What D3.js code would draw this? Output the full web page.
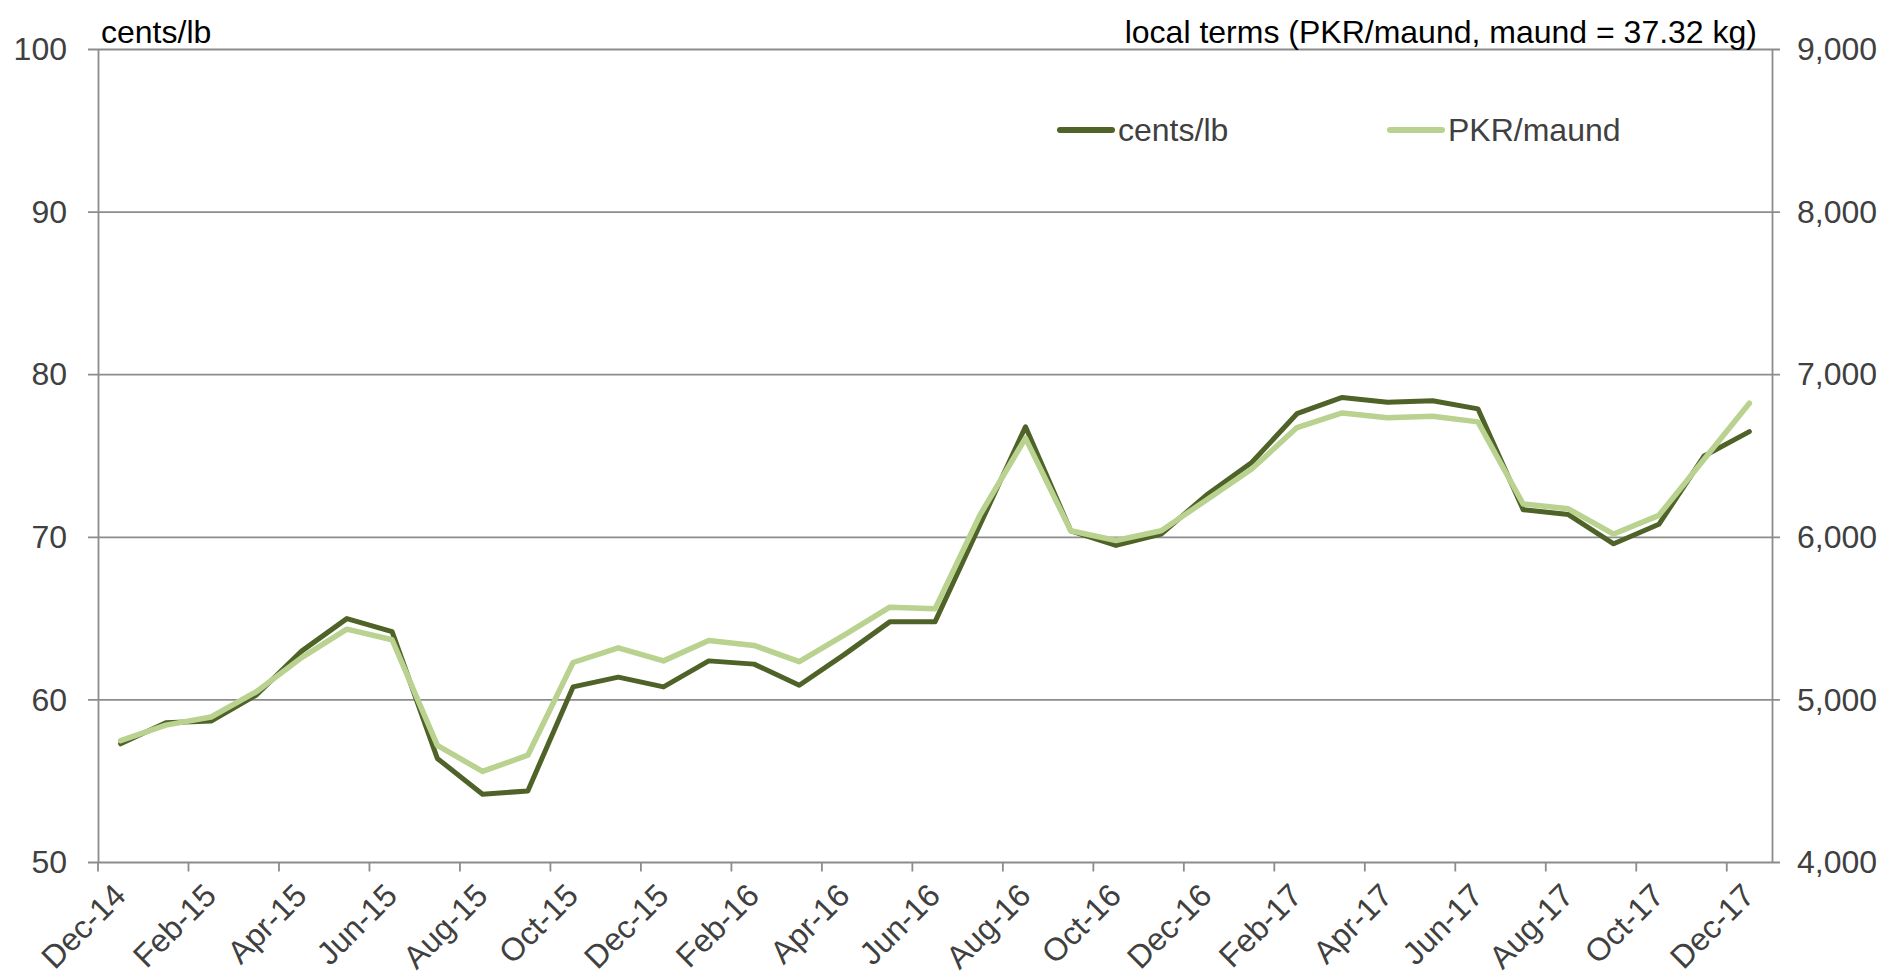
<!DOCTYPE html>
<html lang="en">
	<head>
		<meta charset="utf-8">
		<title>Cotton price, cents/lb and PKR/maund</title>
		<script type="text/javascript" src="https://cdnjs.cloudflare.com/ajax/libs/d3/7.8.5/d3.min.js"></script>
		<style type="text/css">
			body { margin: 0; background: #fff; }
			text { font-family: "Liberation Sans", Arial, sans-serif; }
		</style>
	</head>
	<body>
		<script type="text/javascript">

			// data
			var months = ['Dec-14','Jan-15','Feb-15','Mar-15','Apr-15','May-15','Jun-15','Jul-15','Aug-15','Sep-15','Oct-15','Nov-15',
				'Dec-15','Jan-16','Feb-16','Mar-16','Apr-16','May-16','Jun-16','Jul-16','Aug-16','Sep-16','Oct-16','Nov-16',
				'Dec-16','Jan-17','Feb-17','Mar-17','Apr-17','May-17','Jun-17','Jul-17','Aug-17','Sep-17','Oct-17','Nov-17','Dec-17']

			var centsLb = [57.3, 58.6, 58.7, 60.3, 63.0, 65.0, 64.2, 56.4, 54.2, 54.4, 60.8, 61.4,
				60.8, 62.4, 62.2, 60.9, 62.8, 64.8, 64.8, 70.8, 76.8, 70.4, 69.5, 70.2,
				72.6, 74.6, 77.6, 78.6, 78.3, 78.4, 77.9, 71.7, 71.4, 69.6, 70.8, 75.0, 76.5]

			var pkrMaund = [4750, 4845, 4895, 5050, 5260, 5435, 5370, 4720, 4560, 4660, 5230, 5320,
				5240, 5365, 5335, 5235, 5400, 5570, 5560, 6140, 6610, 6040, 5980, 6040,
				6230, 6420, 6675, 6765, 6735, 6745, 6710, 6205, 6175, 6020, 6135, 6480, 6825]

			var leftTicks = [50, 60, 70, 80, 90, 100]
			var rightTicks = [4000, 5000, 6000, 7000, 8000, 9000]

			var w = 1894
			var h = 980
			var padLeft = 98, padRight = 1772, padTop = 49.5, padBottom = 862.5
			var fontSize = 32
			var gridColor = '#8c8c8c'
			var darkGreen = '#4f6228'
			var lightGreen = '#b9d28f'

			var xScale = d3.scaleBand()
							.domain(months)
							.range([padLeft, padRight])
			var bw = xScale.bandwidth()

			var yLeft = d3.scaleLinear()
							.domain([50, 100])
							.range([padBottom, padTop])
			var yRight = d3.scaleLinear()
							.domain([4000, 9000])
							.range([padBottom, padTop])

			var svg = d3.select('body')
							.append('svg')
							.attr('width', w)
							.attr('height', h)

			// gridlines
			svg.append('g')
				.selectAll('line')
				.data(leftTicks)
				.enter()
				.append('line')
				.attr('x1', padLeft - 10)
				.attr('x2', padRight + 8)
				.attr('y1', d => yLeft(d))
				.attr('y2', d => yLeft(d))
				.attr('stroke', gridColor)
				.attr('stroke-width', 1.8)

			// left axis
			svg.append('g')
				.attr('transform', `translate(${padLeft},0)`)
				.call(d3.axisLeft(yLeft).tickValues(leftTicks).tickSize(0).tickPadding(31))
				.call(g => g.select('.domain').attr('stroke', gridColor).attr('stroke-width', 1.8))
				.call(g => g.selectAll('text')
					.attr('font-size', fontSize)
					.attr('fill', '#404040')
					.attr('font-family', '"Liberation Sans", Arial, sans-serif'))

			// right axis
			svg.append('g')
				.attr('transform', `translate(${padRight},0)`)
				.call(d3.axisRight(yRight).tickValues(rightTicks).tickFormat(d3.format(',')).tickSize(0).tickPadding(25))
				.call(g => g.select('.domain').attr('stroke', gridColor).attr('stroke-width', 1.8))
				.call(g => g.selectAll('text')
					.attr('font-size', fontSize)
					.attr('fill', '#404040')
					.attr('font-family', '"Liberation Sans", Arial, sans-serif'))

			// bottom tick marks between categories, every second month
			var tickIdx = d3.range(0, months.length + 1, 2)
			svg.append('g')
				.selectAll('line')
				.data(tickIdx)
				.enter()
				.append('line')
				.attr('x1', i => i < months.length ? xScale(months[i]) : padRight)
				.attr('x2', i => i < months.length ? xScale(months[i]) : padRight)
				.attr('y1', padBottom)
				.attr('y2', padBottom + 9)
				.attr('stroke', gridColor)
				.attr('stroke-width', 1.8)

			// month labels
			svg.append('g')
					.attr('font-size', fontSize)
					.attr('fill', '#404040')
					.attr('text-anchor', 'end')
				.selectAll('text')
				.data(months.filter((d, i) => i % 2 == 0))
				.enter()
				.append('text')
				.attr('transform', d => `translate(${xScale(d) + bw / 2 + 7},${padBottom + 35}) rotate(-45)`)
				.text(d => d)

			// lines
			var lineLeft = d3.line()
							.x((d, i) => xScale(months[i]) + bw / 2)
							.y(d => yLeft(d))
			var lineRight = d3.line()
							.x((d, i) => xScale(months[i]) + bw / 2)
							.y(d => yRight(d))

			svg.append('path')
				.datum(centsLb)
				.attr('d', lineLeft)
				.attr('fill', 'none')
				.attr('stroke', darkGreen)
				.attr('stroke-width', 5)
				.attr('stroke-linejoin', 'round')
				.attr('stroke-linecap', 'round')

			svg.append('path')
				.datum(pkrMaund)
				.attr('d', lineRight)
				.attr('fill', 'none')
				.attr('stroke', lightGreen)
				.attr('stroke-width', 5.5)
				.attr('stroke-linejoin', 'round')
				.attr('stroke-linecap', 'round')

			// axis titles
			svg.append('text')
				.attr('x', 101)
				.attr('y', 43)
				.attr('font-size', fontSize)
				.attr('fill', '#000')
				.text('cents/lb')

			svg.append('text')
				.attr('x', 1757)
				.attr('y', 43)
				.attr('font-size', fontSize)
				.attr('fill', '#000')
				.attr('text-anchor', 'end')
				.text('local terms (PKR/maund, maund = 37.32 kg)')

			// legend
			var legend = [
				{name: 'cents/lb', color: darkGreen, x: 1058},
				{name: 'PKR/maund', color: lightGreen, x: 1388}
			]
			var lg = svg.append('g')
				.selectAll('g')
				.data(legend)
				.enter()
				.append('g')
				.attr('transform', d => `translate(${d.x},130)`)
			lg.append('line')
				.attr('x1', 2)
				.attr('x2', 54)
				.attr('stroke', d => d.color)
				.attr('stroke-width', 6)
				.attr('stroke-linecap', 'round')
			lg.append('text')
				.attr('x', 60)
				.attr('y', 11)
				.attr('font-size', fontSize)
				.attr('fill', '#404040')
				.text(d => d.name)
		</script>
	</body>
</html>
